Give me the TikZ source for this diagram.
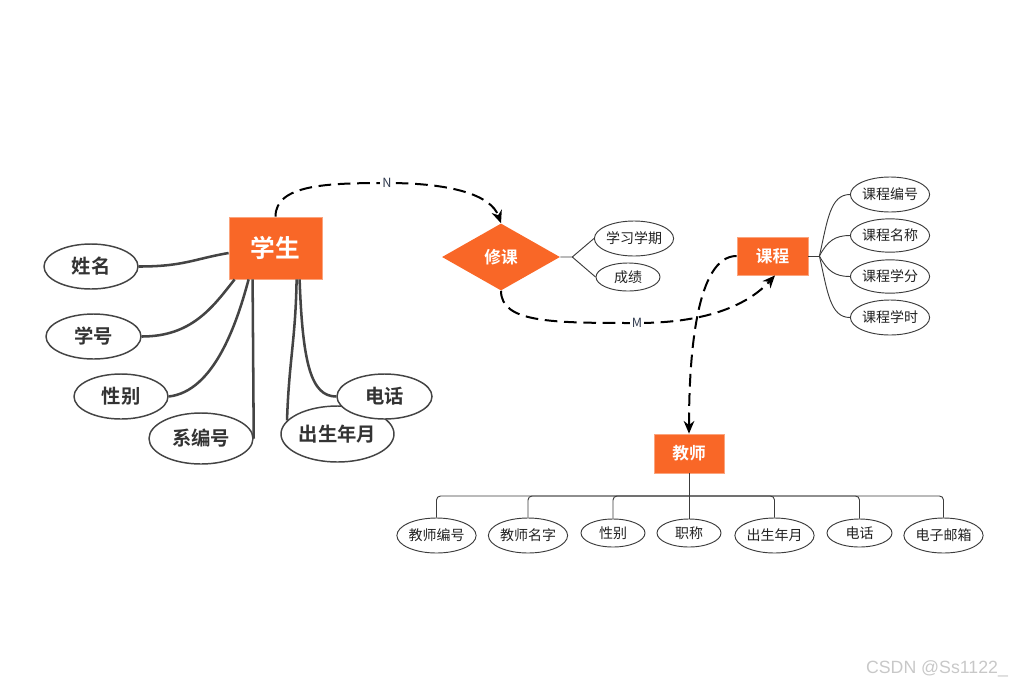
\documentclass[tikz,border=0pt]{standalone}
\usepackage{fontspec}
\setmainfont{Noto Sans CJK SC}[BoldFont={Noto Sans CJK SC Bold}]
\newfontfamily\wmfont{Liberation Sans}
\usetikzlibrary{shapes.geometric,arrows.meta,calc}
\definecolor{og}{RGB}{249,103,39}
\definecolor{lk}{RGB}{68,68,68}
\definecolor{sk}{RGB}{60,60,60}
\definecolor{tx}{RGB}{51,51,51}
\definecolor{tx2}{RGB}{34,34,34}
\definecolor{lb}{RGB}{50,60,80}
\definecolor{wm}{RGB}{200,200,200}
\begin{document}
\begin{tikzpicture}[x=0.75pt,y=-0.75pt,
 ent/.style={rectangle, fill=og, draw=og!60!white, line width=0.6pt, text=white, inner sep=0pt},
 bigattr/.style={ellipse, draw=lk, line width=1.1pt, fill=white, text=tx, font=\bfseries\fontsize{14.5}{16}\selectfont, inner sep=0pt},
 smattr/.style={ellipse, draw=sk, line width=0.7pt, fill=white, text=tx2, font=\fontsize{10.5}{12}\selectfont, inner sep=0pt},
 thickln/.style={draw=lk, line width=1.9pt},
 thinln/.style={draw=sk, line width=0.7pt},
 rel/.style={draw=black, line width=1.5pt, dash pattern=on 9.5pt off 5pt, -{Stealth[length=9.5pt,width=8pt]}},
 lbl/.style={fill=white, inner sep=1.5pt, font=\fontsize{9.5}{11}\selectfont, text=lb}
]
\useasboundingbox (0,0) rectangle (1016,689);

% entities
\node[ent, minimum width=69.75pt, minimum height=46.5pt, font=\bfseries\fontsize{18.5}{20}\selectfont] (xs) at (275.5,248) {学生};
\node[diamond, fill=og, inner sep=0pt, minimum width=88.5pt, minimum height=50.25pt, aspect=1.76, text=white, font=\bfseries\fontsize{12.5}{14}\selectfont] (xk) at (501,257) {修课};
\node[ent, minimum width=53.25pt, minimum height=28.5pt, font=\bfseries\fontsize{12.5}{14}\selectfont] (kc) at (772.5,256) {课程};
\node[ent, minimum width=52.5pt, minimum height=29.25pt, font=\bfseries\fontsize{12.5}{14}\selectfont] (js) at (689,453.5) {教师};

% student attributes
\node[bigattr, minimum width=70.5pt, minimum height=33.75pt] (xm) at (91,266.5) {姓名};
\node[bigattr, minimum width=71.25pt, minimum height=33.75pt] (xh) at (93.5,336.5) {学号};
\node[bigattr, minimum width=70.5pt, minimum height=33.75pt] (xg) at (121,396.5) {性别};
\node[bigattr, minimum width=78pt, minimum height=38.25pt] (xb) at (201,438.5) {系编号};
\node[bigattr, minimum width=84.75pt, minimum height=42pt] (xc) at (337.5,434) {出生年月};
\node[bigattr, minimum width=71.25pt, minimum height=33.75pt] (xd) at (384.5,396.5) {电话};

\draw[thickln] (xm.east) .. controls +(45,0) and +(-35,6) .. ($(xs.west)+(0,5)$);
\draw[thickln] (xh.east) .. controls +(50,0) and +(-22,28) .. ($(xs.south west)+(6,0)$);
\draw[thickln] (xg.east) .. controls +(45,-5) and +(-12,45) .. ($(xs.south west)+(20,0)$);
\draw[thickln] (xb.east) -- ($(xs.south west)+(24,0)$);
\draw[thickln] (xc.165) .. controls +(2,-60) and +(-1,60) .. ($(xs.south west)+(68,0)$);
\draw[thickln] ($(xs.south west)+(71,0)$) .. controls +(3,85) and +(-25,0) .. (xd.west);

% relationship attributes
\node[smattr, minimum width=57pt, minimum height=26.25pt] (kq) at (634,238.5) {学习学期};
\node[smattr, minimum width=48pt, minimum height=21pt] (kg) at (628,277) {成绩};
\coordinate (kb) at ($(xk.east)+(12,0)$);
\draw[thinln] (xk.east) -- (kb) -- (kq.west);
\draw[thinln] (kb) -- (kg.west);

% course attributes
\node[smattr, minimum width=58.5pt, minimum height=26.25pt] (c1) at (890,194.5) {课程编号};
\node[smattr, minimum width=58.5pt, minimum height=25pt] (c2) at (890,235.5) {课程名称};
\node[smattr, minimum width=58.5pt, minimum height=25pt] (c3) at (890,276.5) {课程学分};
\node[smattr, minimum width=58.5pt, minimum height=26.25pt] (c4) at (890,317.5) {课程学时};
\coordinate (cb) at ($(kc.east)+(11,0)$);
\draw[thinln] (kc.east) -- (cb);
\draw[thinln] (cb) .. controls +(8,-35) and +(-20,0) .. (c1.west);
\draw[thinln] (cb) .. controls +(8,-15) and +(-15,0) .. (c2.west);
\draw[thinln] (cb) .. controls +(8,15) and +(-15,0) .. (c3.west);
\draw[thinln] (cb) .. controls +(8,35) and +(-20,0) .. (c4.west);

% teacher attributes
\node[smattr, minimum width=57.75pt, minimum height=26.25pt] (t1) at (436.5,535.5) {教师编号};
\node[smattr, minimum width=58.5pt, minimum height=26.25pt] (t2) at (528,535.5) {教师名字};
\node[smattr, minimum width=48pt, minimum height=21pt] (t3) at (613,533) {性别};
\node[smattr, minimum width=48pt, minimum height=21pt] (t4) at (689,533) {职称};
\node[smattr, minimum width=57.75pt, minimum height=26.25pt] (t5) at (774.5,535.5) {出生年月};
\node[smattr, minimum width=48.75pt, minimum height=21pt] (t6) at (859.5,533) {电话};
\node[smattr, minimum width=57.75pt, minimum height=26.25pt] (t7) at (943.5,535.5) {电子邮箱};
\coordinate (bus) at (689,496);
\draw[thinln] (js.south) -- (t4.north);
\foreach \t in {t1,t2,t3,t5,t6,t7}{
  \draw[thinln, rounded corners=3pt] (\t.north) |- (bus);
}

% relationships (dashed)
\coordinate (nP) at (387,183);
\coordinate (mP) at (637,323);
\draw[rel] (xs.north) .. controls +(0,-32) and +(-60,0) .. (nP) node[lbl]{N} .. controls +(65,0) and +(-10,-28) .. (xk.north);
\draw[rel] (xk.south) .. controls +(0,32) and +(-85,0) .. (mP) node[lbl]{M} .. controls +(80,0) and +(-22,24) .. ($(kc.south)+(2.5,0)$);
\draw[rel] (kc.west) .. controls +(-40,0) and +(0,-80) .. (js.north);

% watermark
\node[text=wm, font=\wmfont\fontsize{13.3}{15}\selectfont, inner sep=0pt] (wmk) at (937,669) {CSDN @Ss1122\_};
\end{tikzpicture}
\end{document}
